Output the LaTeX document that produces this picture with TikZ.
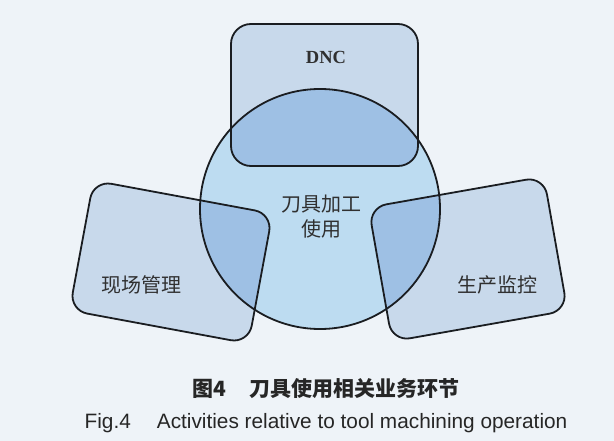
\documentclass[tikz,border=0pt]{standalone}
\usepackage{fontspec}
\setmainfont{Liberation Serif}
\newfontfamily\song{Noto Sans CJK SC}
\newfontfamily\hei{Noto Sans CJK SC}
\newfontfamily\capsans{Liberation Sans}
\definecolor{bg}{HTML}{EEF3F8}
\definecolor{circ}{HTML}{BDDCF1}
\definecolor{boxc}{HTML}{C8D9EB}
\definecolor{ovl}{HTML}{9EC0E4}
\definecolor{linec}{HTML}{1A1D21}
\definecolor{txt}{HTML}{303030}
\begin{document}
\begin{tikzpicture}[x=1pt,y=-1pt,
  outline/.style={draw=linec, line width=1.8pt},
  lbl/.style={font=\song\fontsize{20}{25}\selectfont, text=txt, inner sep=0pt},
  dncbox/.style={rounded corners=20pt},
  lbox/.style={rounded corners=18pt, rotate around={-10.5:(171,262)}},
  rbox/.style={rounded corners=18pt, rotate around={10:(468,259)}}]
\useasboundingbox (0,0) rectangle (614,441);
\fill[bg] (0,0) rectangle (614,441);
% base fills
\fill[circ] (320,209) circle[radius=120];
\fill[boxc, dncbox] (231,24) rectangle (418,166);
\fill[boxc, lbox] (80,196) rectangle (262,328);
\fill[boxc, rbox] (379,191) rectangle (557,327);
% overlaps
\begin{scope}
  \clip (320,209) circle[radius=120];
  \fill[ovl, dncbox] (231,24) rectangle (418,166);
  \fill[ovl, lbox] (80,196) rectangle (262,328);
  \fill[ovl, rbox] (379,191) rectangle (557,327);
\end{scope}
% outlines
\draw[outline, dncbox] (231,24) rectangle (418,166);
\draw[outline, lbox] (80,196) rectangle (262,328);
\draw[outline, rbox] (379,191) rectangle (557,327);
\draw[outline] (320,209) circle[radius=120];
% labels
\node[lbl, font=\bfseries\fontsize{18.5}{20}\selectfont] (dnc) at (326,57) {DNC};
\node[lbl, align=center] (core) at (321,217) {刀具加工\\使用};
\node[lbl] (xc) at (141,285) {现场管理};
\node[lbl] (sc) at (497,285) {生产监控};
% captions
\node[text=black!85, inner sep=0pt, font=\hei\bfseries\fontsize{21}{24}\selectfont] (cap1) at (326,389) {图4\hspace{23pt}刀具使用相关业务环节};
\node[text=black!85, inner sep=0pt, font=\capsans\fontsize{20.8}{24}\selectfont] (cap2) at (326,423) {Fig.4\hspace{26pt}Activities relative to tool machining operation};
\end{tikzpicture}
\end{document}
